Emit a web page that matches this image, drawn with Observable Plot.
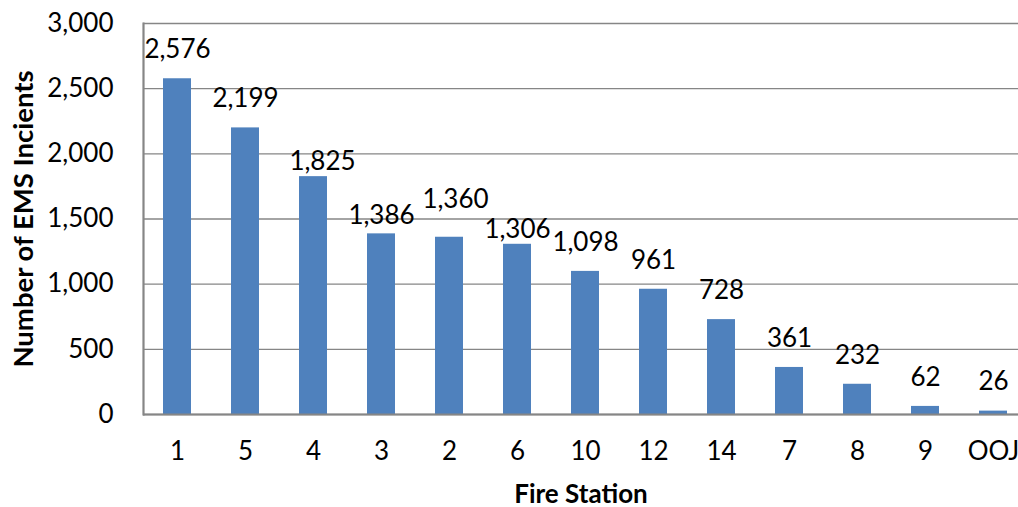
<!DOCTYPE html>
<html>
<head>
<meta charset="utf-8">
<script src="https://cdn.jsdelivr.net/npm/d3@7"></script>
<script src="https://cdn.jsdelivr.net/npm/@observablehq/plot@0.6"></script>
<style>
  html, body { margin: 0; padding: 0; background: #fff; overflow: hidden; }
  #chart svg { display: block; overflow: hidden; }
</style>
</head>
<body>
<div id="chart"></div>
<script>
// EMS incidents by fire station (sorted by volume)
const stations = ["1", "5", "4", "3", "2", "6", "10", "12", "14", "7", "8", "9", "OOJ"];
const incidents = [2576, 2199, 1825, 1386, 1360, 1306, 1098, 961, 728, 361, 232, 62, 26];
const yTicks = [0, 500, 1000, 1500, 2000, 2500, 3000];

const rows = stations.map((station, i) => ({station, incidents: incidents[i]}));

// Value labels sit above each bar; a few are shifted to keep neighbours apart.
const labelShift = {"4": {dx: 9, dy: -15}, "3": {dx: 0, dy: -18}, "2": {dx: 6, dy: -38}, "6": {dx: 0, dy: -15}};
const baseShift = {dx: 0, dy: -29};
const fmt = d3.format(",");
const FONT = "Lato, 'Open Sans', sans-serif";
const AXIS_GRAY = "#868686";
const FS = 26;

const shiftGroups = d3.groups(rows, r => JSON.stringify(labelShift[r.station] || baseShift));
const labelMarks = shiftGroups.map(([key, group]) => {
  const s = JSON.parse(key);
  return Plot.text(group, {
    x: "station", y: "incidents", text: d => fmt(d.incidents),
    dx: s.dx, dy: s.dy, fontSize: FS, fill: "#000", textAnchor: "middle", lineAnchor: "middle"
  });
});

const chart = Plot.plot({
  width: 1018,
  height: 507,
  marginLeft: 143,
  marginRight: 0,
  marginTop: 23,
  marginBottom: 93,
  style: {fontFamily: FONT, fontSize: FS + "px", color: "#000", background: "#fff"},
  x: {domain: stations, range: [143, 1027], paddingInner: 0.59, paddingOuter: 0.295, label: null},
  y: {domain: [0, 3000], label: null},
  marks: [
    Plot.gridY(yTicks, {stroke: AXIS_GRAY, strokeOpacity: 1, strokeWidth: 1.4}),
    Plot.barY(rows, {x: "station", y: "incidents", fill: "#4F81BD"}),
    Plot.ruleY([0], {stroke: AXIS_GRAY, strokeWidth: 2.2}),
    Plot.frame({anchor: "left", stroke: AXIS_GRAY, strokeWidth: 2.2}),
    Plot.axisY(yTicks, {tickSize: 0, tickPadding: 30, tickFormat: fmt, fontSize: FS,
      label: "Number of EMS Incients", labelAnchor: "center", labelArrow: "none", labelOffset: 130}),
    Plot.axisX({tickSize: 0, tickPadding: 27, fontSize: FS,
      label: "Fire Station", labelAnchor: "center", labelArrow: "none", labelOffset: 88}),
    ...labelMarks
  ]
});

// axis titles are bold; the vertical one is set a little larger
chart.querySelectorAll("[aria-label='y-axis label'], [aria-label='x-axis label']").forEach(g => {
  g.setAttribute("font-weight", "bold");
});
const yTitle = chart.querySelector("[aria-label='y-axis label']");
if (yTitle) yTitle.setAttribute("font-size", "27.5");

document.getElementById("chart").appendChild(chart);
</script>
</body>
</html>
